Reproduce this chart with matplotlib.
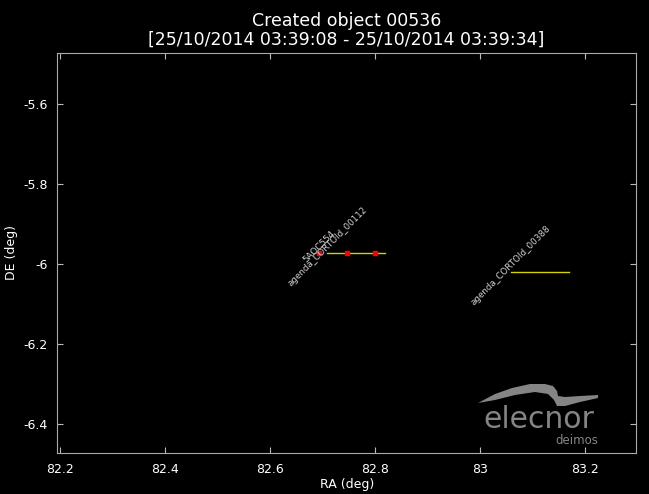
"""Created object plot: RA/DE tracks of correlated objects."""
import matplotlib
matplotlib.use("Agg")
import matplotlib.pyplot as plt
from matplotlib.patches import Polygon

# tracks (RA deg, DE deg)
track_112_ra = [82.709, 82.819]
track_112_de = [-5.9725, -5.9725]
track_388_ra = [83.059, 83.170]
track_388_de = [-6.020, -6.020]

# created object measurements
obj_ra = [82.693, 82.747, 82.800]
obj_de = [-5.9725, -5.9725, -5.9725]

labels = ["5AOC554", "agenda_CORTOId_00112", "agenda_CORTOId_00388"]
label_ra = [obj_ra[0], track_112_ra[0], track_388_ra[0]]
label_de = [obj_de[0], track_112_de[0], track_388_de[0]]

x_ticks = [82.2, 82.4, 82.6, 82.8, 83.0, 83.2]
x_tick_labels = ["82.2", "82.4", "82.6", "82.8", "83", "83.2"]
y_ticks = [-5.6, -5.8, -6.0, -6.2, -6.4]
y_tick_labels = ["-5.6", "-5.8", "-6", "-6.2", "-6.4"]

fig = plt.figure(figsize=(6.49, 4.94), dpi=100, facecolor="black")
ax = fig.add_axes([0.0883, 0.083, 0.8917, 0.8103], facecolor="black")

ax.plot(track_112_ra, track_112_de, color="#d2d200", lw=1)
ax.plot(track_388_ra, track_388_de, color="#d2d200", lw=1)
ax.plot(obj_ra, obj_de, "s", color="red", ms=3.5, mec="red", ls="none")

for txt, x, y in zip(labels, label_ra, label_de):
    ax.annotate(txt, (x, y), xytext=(0, 4.5), textcoords="offset points",
                rotation=45, ha="center", va="center", fontsize=6.3,
                color="#d0d0d0")

ax.set_xlim(82.195, 83.297)
ax.set_ylim(-6.4725, -5.4725)
ax.set_xticks(x_ticks)
ax.set_xticklabels(x_tick_labels)
ax.set_yticks(y_ticks)
ax.set_yticklabels(y_tick_labels)
ax.tick_params(direction="in", top=True, right=True, colors="#bbbbbb",
               labelcolor="white", labelsize=9, length=4, pad=7)
for s in ax.spines.values():
    s.set_color("#aaaaaa")

ax.set_xlabel("RA (deg)", color="white", fontsize=9, labelpad=2)
ax.set_ylabel("DE (deg)", color="white", fontsize=9, labelpad=4)
ax.set_title("Created object 00536\n[25/10/2014 03:39:08 - 25/10/2014 03:39:34]",
             color="white", fontsize=12.5, linespacing=1.0, pad=6)

# elecnor deimos logo (pixel positions -> axes fraction)
def px(x, y):
    return ((x - 57.3) / 578.7, (453 - y) / 400.3)

swoosh = [(478, 403), (495, 394), (512, 388), (530, 384), (545, 384),
          (553, 386), (557, 391), (558, 396), (565, 397), (580, 396),
          (598, 395), (598, 398), (580, 402), (565, 406), (557, 406),
          (554, 400), (548, 394), (535, 392), (515, 395), (495, 400)]
ax.add_patch(Polygon([px(*p) for p in swoosh], closed=True,
                     transform=ax.transAxes, color="#858585", lw=0))
ax.text(*px(539, 428), "elecnor", transform=ax.transAxes, ha="center",
        va="baseline", fontsize=21.5, color="#858585")
ax.text(*px(598, 444), "deimos", transform=ax.transAxes, ha="right",
        va="baseline", fontsize=8.5, color="#858585")

fig.savefig("out.png", dpi=100, facecolor="black")
